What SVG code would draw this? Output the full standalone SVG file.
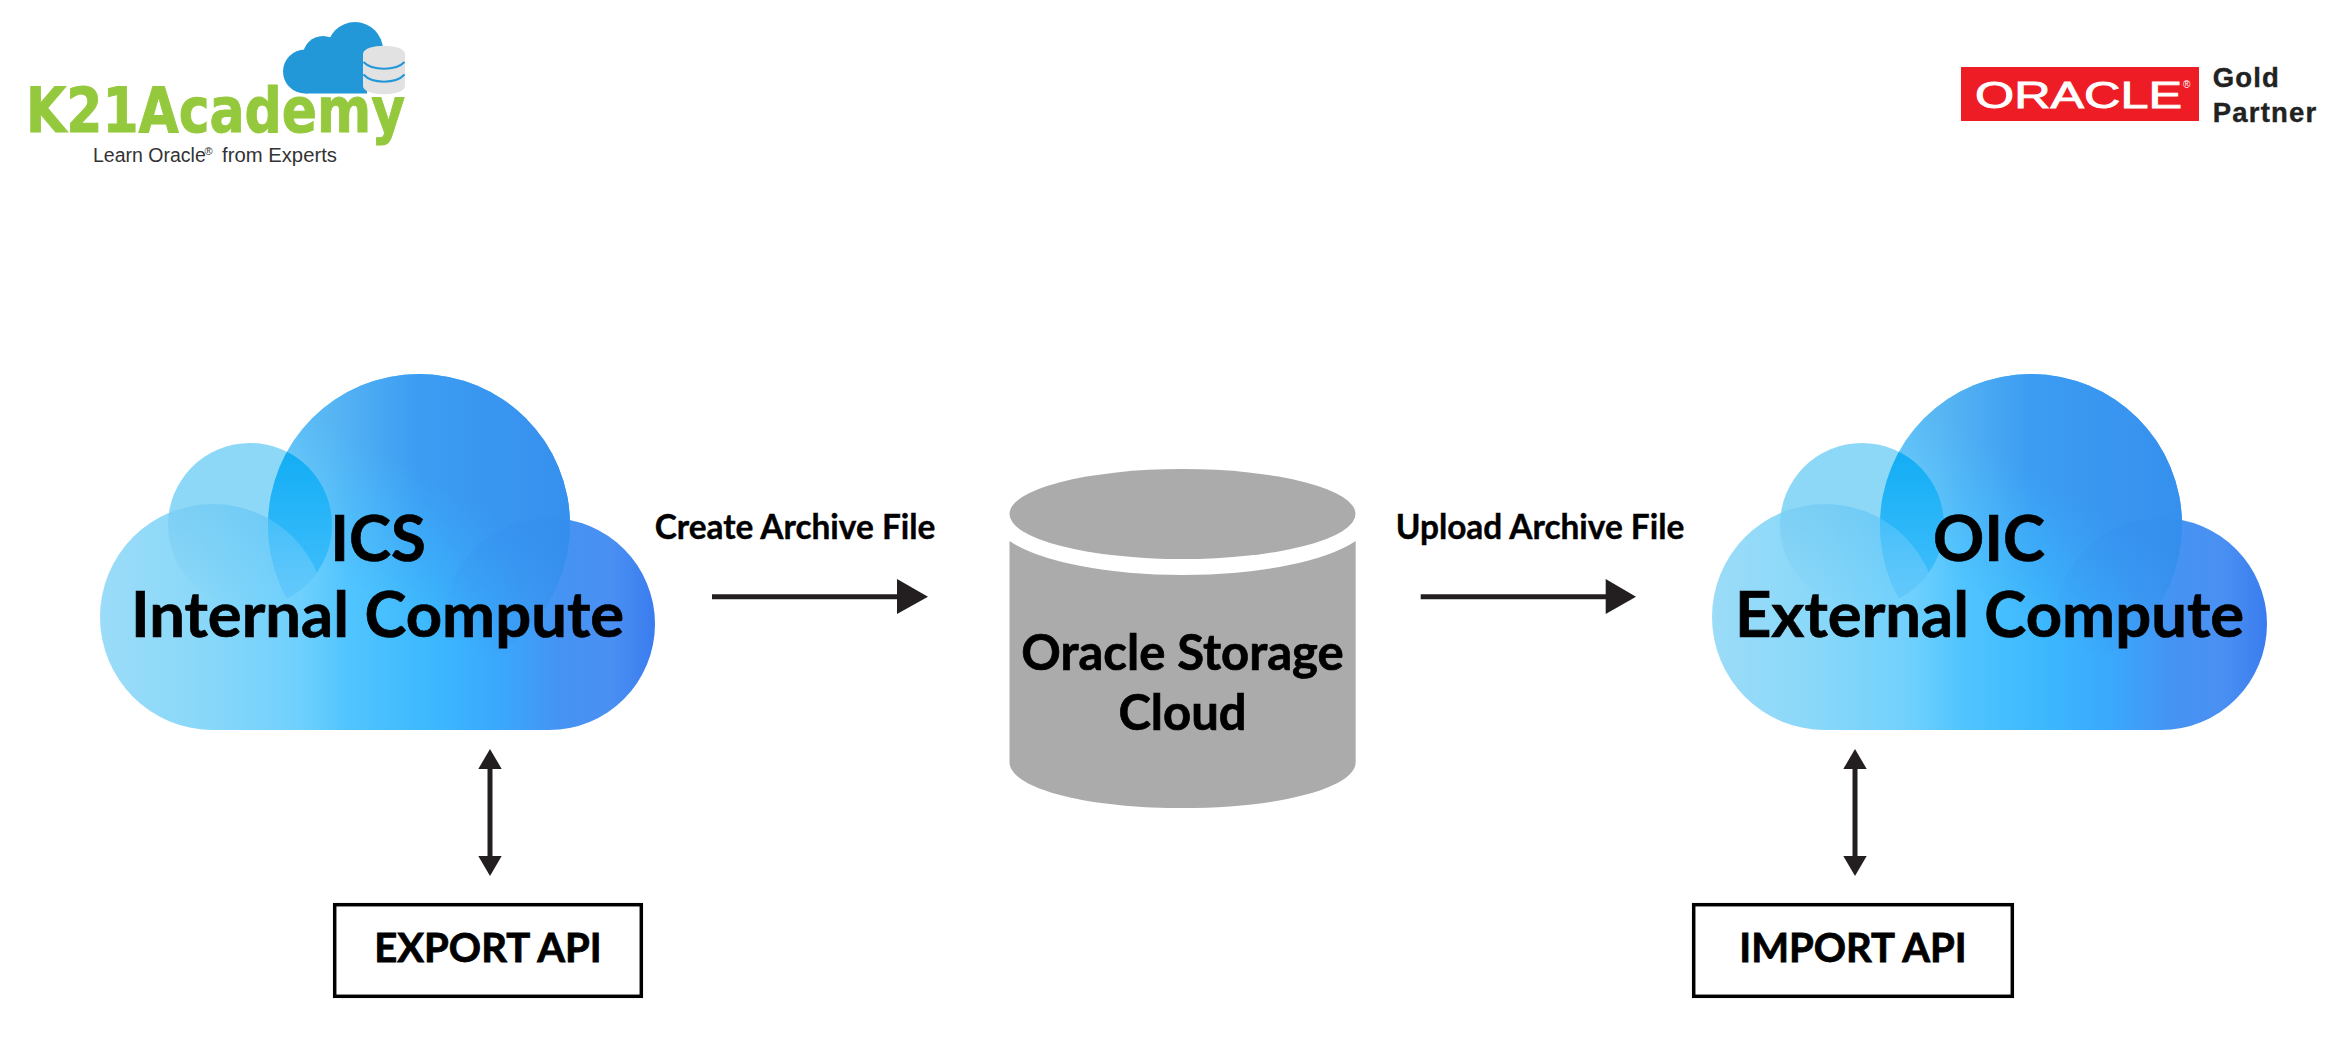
<svg xmlns="http://www.w3.org/2000/svg" width="2345" height="1061" viewBox="0 0 2345 1061">
<style>
.lato{font-family:"Lato","Noto Sans",sans-serif;font-weight:700;fill:#000;stroke:#000;text-anchor:middle}
.sans{font-family:"Liberation Sans",Arial,sans-serif}
.title{font-size:63.400px;stroke-width:.7}
.store{font-size:49px;stroke-width:.7}
.flow{font-size:33.400px;stroke-width:.4}
.api{font-size:40px;stroke-width:.8}
.box{fill:#fff;stroke:#000;stroke-width:3.500}
.line{stroke:#231f20;stroke-width:5;fill:none}
.head{fill:#231f20}
.cyl{fill:#ababab}
</style>
<defs>
<linearGradient id="base" gradientUnits="userSpaceOnUse" x1="100" y1="0" x2="655" y2="0">
<stop offset="0" stop-color="#9bdcf8"/><stop offset=".18" stop-color="#8ad8f9"/><stop offset=".36" stop-color="#6fd0fd"/><stop offset=".45" stop-color="#50c4fe"/><stop offset=".6" stop-color="#3cb8fe"/><stop offset=".72" stop-color="#3aa8fc"/><stop offset=".83" stop-color="#4593f3"/><stop offset=".92" stop-color="#4a90f2"/><stop offset="1" stop-color="#3a7cef"/>
</linearGradient>
<linearGradient id="bigfill" gradientUnits="userSpaceOnUse" x1="267" y1="0" x2="570" y2="0">
<stop offset="0" stop-color="#5cbff5"/><stop offset=".2" stop-color="#58b6f3"/><stop offset=".5" stop-color="#3c9cf2"/><stop offset="1" stop-color="#3690ee"/>
</linearGradient>
<linearGradient id="fade" gradientUnits="userSpaceOnUse" x1="500" y1="480" x2="420" y2="620">
<stop offset="0" stop-color="#fff"/><stop offset=".2" stop-color="#fff"/><stop offset="1" stop-color="#000"/>
</linearGradient>
<linearGradient id="ov" gradientUnits="userSpaceOnUse" x1="0" y1="450" x2="0" y2="600">
<stop offset="0" stop-color="#12adf5"/><stop offset="1" stop-color="#45c0fc"/>
</linearGradient>
<linearGradient id="ovl" gradientUnits="userSpaceOnUse" x1="0" y1="505" x2="0" y2="610">
<stop offset="0" stop-color="#5bbcec" stop-opacity=".35"/><stop offset="1" stop-color="#5bbcec" stop-opacity="0"/>
</linearGradient>
<linearGradient id="ovr" gradientUnits="userSpaceOnUse" x1="0" y1="515" x2="0" y2="640">
<stop offset="0" stop-color="#2f86e8" stop-opacity=".2"/><stop offset="1" stop-color="#2f86e8" stop-opacity="0"/>
</linearGradient>
<linearGradient id="ovk" gradientUnits="userSpaceOnUse" x1="0" y1="505" x2="0" y2="610">
<stop offset="0" stop-color="#6ccbfb" stop-opacity=".35"/><stop offset="1" stop-color="#6ccbfb" stop-opacity=".8"/>
</linearGradient>
<mask id="fadem" maskUnits="userSpaceOnUse" x="260" y="370" width="320" height="320"><rect x="260" y="370" width="320" height="320" fill="url(#fade)"/></mask>
<clipPath id="cs"><circle cx="250" cy="525" r="82"/></clipPath>
<clipPath id="cb"><circle cx="419" cy="525" r="151"/></clipPath>
<clipPath id="cl"><circle cx="213" cy="617" r="113"/></clipPath>
<g id="cloud">
<circle cx="250" cy="525" r="82" fill="#8ed8f7"/>
<g fill="url(#base)">
<circle cx="213" cy="617" r="113"/>
<circle cx="549" cy="624" r="106"/>
<rect x="213" y="590" width="336" height="140"/>
<circle cx="419" cy="525" r="151"/>
</g>
<circle cx="250" cy="525" r="82" fill="url(#ovl)" clip-path="url(#cl)"/>
<circle cx="419" cy="525" r="151" fill="url(#bigfill)" mask="url(#fadem)"/>
<circle cx="549" cy="624" r="106" fill="url(#ovr)" clip-path="url(#cb)"/>
<g clip-path="url(#cs)"><g clip-path="url(#cb)">
<rect x="260" y="440" width="80" height="170" fill="url(#ov)"/>
<circle cx="213" cy="617" r="113" fill="url(#ovk)"/>
</g></g>
</g>
</defs>
<rect width="2345" height="1061" fill="#fff"/>

<g id="logo-k21">
<g fill="#2398d8">
<circle cx="305" cy="71.500" r="22"/><circle cx="323" cy="56" r="20"/><circle cx="355" cy="50" r="28"/>
<rect x="305" y="50" width="62" height="43.500"/>
</g>
<path d="M363 54C363 43 405 43 405 54V86C405 97 363 97 363 86Z" fill="#e2e2e2"/>
<path d="M363.500 62C372 71 396 71 404.500 62M363.500 74.500C372 84 396 84 404.500 74.500" fill="none" stroke="#2398d8" stroke-width="2"/>
<text x="26" y="131.700" font-family="DejaVu Sans" font-size="62.700" font-weight="700" fill="#95c93d" stroke="#95c93d" stroke-width="1" textLength="379" lengthAdjust="spacingAndGlyphs">K21Academy</text>
<text class="sans" x="93" y="162" font-size="19.500" fill="#333">Learn Oracle<tspan x="204.500" y="155" font-size="11">®</tspan> <tspan x="222" y="162" font-size="20.300">from Experts</tspan></text>
</g>

<g id="logo-oracle">
<rect x="1961" y="67" width="238" height="54" fill="#ee1c25"/>
<text class="sans" x="1975" y="107.700" font-size="37" fill="#fff" stroke="#fff" stroke-width=".9" textLength="207" lengthAdjust="spacingAndGlyphs">ORACLE</text>
<text class="sans" x="2183" y="88" font-size="10" fill="#fff">®</text>
<text class="sans" x="2212.700" y="87" font-size="27.500" font-weight="700" fill="#222" stroke="#222" stroke-width=".4" letter-spacing="1.200">Gold</text>
<text class="sans" x="2212.700" y="121.700" font-size="27.500" font-weight="700" fill="#222" stroke="#222" stroke-width=".4" letter-spacing="1.200">Partner</text>
</g>

<g id="node-ics">
<use href="#cloud"/>
<text class="lato title" x="378" y="561">ICS</text>
<text class="lato title" x="377.500" y="637">Internal Compute</text>
</g>

<g id="node-oic">
<use href="#cloud" x="1612"/>
<text class="lato title" x="1989" y="561">OIC</text>
<text class="lato title" x="1989.500" y="637">External Compute</text>
</g>

<g id="node-storage">
<path class="cyl" d="M1009.500 541A190 58 0 0 0 1355.700 541V762C1355.700 788 1280 808 1182.500 808C1085 808 1009.500 788 1009.500 762Z"/>
<ellipse class="cyl" cx="1182.500" cy="514" rx="173" ry="45"/>
<text class="lato store" x="1182.500" y="670">Oracle Storage</text>
<text class="lato store" x="1182.500" y="730">Cloud</text>
</g>

<g id="node-export">
<rect class="box" x="334.700" y="904.700" width="306.600" height="91.600"/>
<text class="lato api" x="488" y="962">EXPORT API</text>
</g>

<g id="node-import">
<rect class="box" x="1693.700" y="904.700" width="318.600" height="91.600"/>
<text class="lato api" x="1853" y="962">IMPORT API</text>
</g>

<g id="connectors">
<path class="line" d="M712 596.700H900"/><path class="head" d="M897 579L928 596.700L897 614Z"/>
<path class="line" d="M1420.700 596.700H1608"/><path class="head" d="M1605.700 579L1636 596.700L1605.700 614Z"/>
<path class="line" d="M490 765V860"/><path class="head" d="M490 749L501.700 769H478.300Z"/><path class="head" d="M490 876L501.700 856H478.300Z"/>
<path class="line" d="M1855 765V860"/><path class="head" d="M1855 749L1866.700 769H1843.300Z"/><path class="head" d="M1855 876L1866.700 856H1843.300Z"/>
</g>

<g id="labels">
<text class="lato flow" x="795" y="539">Create Archive File</text>
<text class="lato flow" x="1540" y="539">Upload Archive File</text>
</g>
</svg>
